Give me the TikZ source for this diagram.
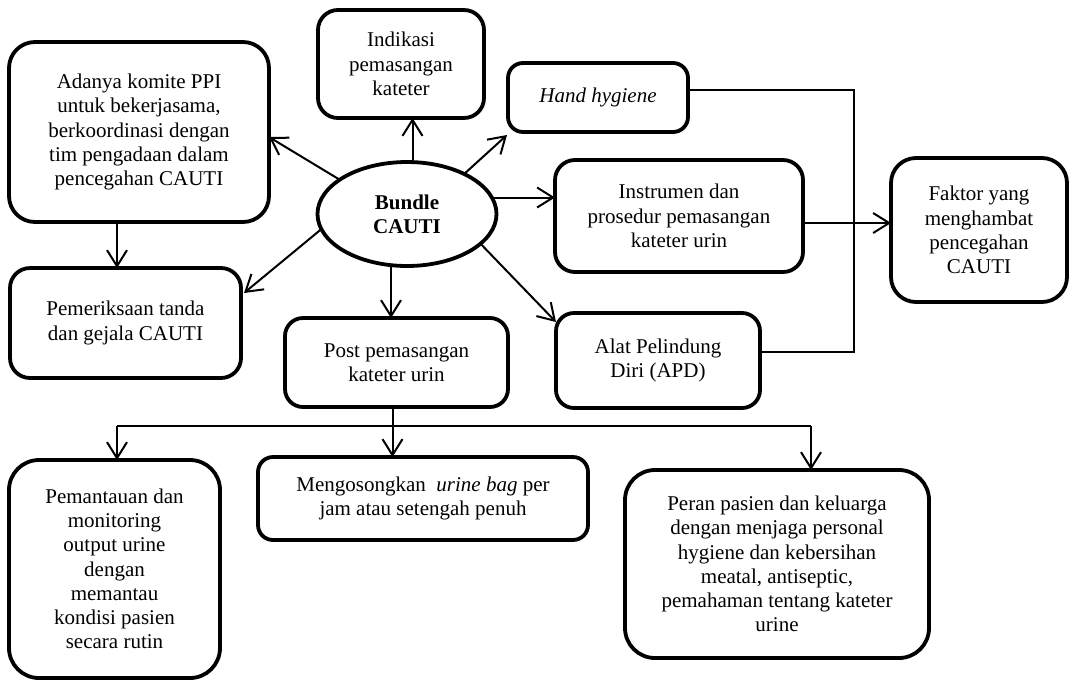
\documentclass[tikz,border=0pt]{standalone}
\usepackage{fontspec}
\setmainfont{Liberation Serif}
\usetikzlibrary{arrows.meta,shapes.geometric}

\begin{document}
\begin{tikzpicture}[x=1pt,y=-1pt,
  every node/.style={font=\fontsize{21pt}{24.2pt}\selectfont, align=center,
    inner sep=0pt, outer sep=0pt},
  box/.style={draw, line width=3.8pt, rounded corners=#1, fill=white},
  box/.default=18pt,
  hub/.style={draw, ellipse, line width=3.8pt, fill=white,
    font=\fontsize{21pt}{24.2pt}\selectfont\bfseries},
  arr/.style={line width=2pt, -{Straight Barb[length=16pt,width=20pt]}},
  link/.style={line width=1.5pt}]

\useasboundingbox (0,0) rectangle (1075,681);

% central bundle
\node[hub, minimum width=179pt, minimum height=104pt] (bundle) at (407,214) {Bundle\\CAUTI};

% first ring of boxes
\node[box=26pt, minimum width=260pt, minimum height=180pt] (komite) at (139,132)
  {Adanya komite PPI\\untuk bekerjasama,\\berkoordinasi dengan\\tim pengadaan dalam\\pencegahan CAUTI};
\node[box=20pt, minimum width=166pt, minimum height=108pt] (indikasi) at (401,64)
  {Indikasi\\pemasangan\\kateter};
\node[box=15pt, minimum width=180pt, minimum height=69pt] (hand) at (598,97.5)
  {\itshape Hand hygiene};
\node[box=20pt, minimum width=248pt, minimum height=112pt] (instrumen) at (679,216)
  {Instrumen dan\\prosedur pemasangan\\kateter urin};
\node[box=25pt, minimum width=176pt, minimum height=144pt] (faktor) at (979,230)
  {Faktor yang\\menghambat\\pencegahan\\CAUTI};
\node[box=20pt, minimum width=231pt, minimum height=110pt] (periksa) at (125.5,323)
  {Pemeriksaan tanda\\dan gejala CAUTI};
\node[box=18pt, minimum width=223pt, minimum height=89pt] (post) at (396.5,362.5)
  {Post pemasangan\\kateter urin};
\node[box=18pt, minimum width=204pt, minimum height=95pt] (alat) at (658,360.5)
  {Alat Pelindung\\Diri (APD)};

% follow-up boxes
\node[box=30pt, minimum width=211pt, minimum height=218pt] (pantau) at (114.5,569)
  {Pemantauan dan\\monitoring\\output urine\\dengan\\memantau\\kondisi pasien\\secara rutin};
\node[box=15pt, minimum width=330pt, minimum height=83pt] (kosong) at (423,498.5)
  {Mengosongkan\ \ \textit{urine bag} per\\jam atau setengah penuh};
\node[box=30pt, minimum width=304pt, minimum height=188pt] (peran) at (777,564)
  {Peran pasien dan keluarga\\dengan menjaga personal\\hygiene dan kebersihan\\meatal, antiseptic,\\pemahaman tentang kateter\\urine};

% arrows out of the bundle
\draw[arr] (bundle.153) -- ([yshift=-5pt]komite.east);
\coordinate (bTop) at ([xshift=5.5pt]bundle.north);
\draw[arr] (bTop) -- (bTop |- indikasi.south);
\draw[arr] (bundle.35) -- ([xshift=-1pt,yshift=-3pt]hand.south west);
\draw[arr] (bundle.11) -- (bundle.11 -| instrumen.west);
\draw[arr] (bundle.190) -- ([xshift=3pt,yshift=30pt]periksa.east);
\coordinate (bBot) at ([xshift=-16pt]bundle.south);
\draw[arr] (bBot) -- (bBot |- post.north);
\draw[arr] (bundle.338) -- ([yshift=-9pt]alat.north west);

% committee to examination
\coordinate (kOut) at ([xshift=-22pt]komite.south);
\draw[arr] (kOut) -- (kOut |- periksa.north);

% barriers rail on the right
\coordinate (rail) at (854,223);
\coordinate (hIn) at ([yshift=7.5pt]hand.east);
\coordinate (aIn) at ([yshift=8.5pt]alat.east);
\draw[link] (hIn) -| (rail |- aIn) -- (aIn);
\coordinate (iOut) at ([yshift=-7pt]instrumen.east);
\draw[arr] (iOut) -- (iOut -| faktor.west);

% post-insertion branches
\coordinate (pOut) at ([xshift=-4pt]post.south);
\coordinate (busL) at (117,426);
\coordinate (busR) at (811,426);
\draw[link] (busL) -- (busR);
\draw[arr] (pOut) -- (pOut |- kosong.north);
\draw[arr] (busL) -- (busL |- pantau.north);
\draw[arr] (busR) -- (busR |- peran.north);

\end{tikzpicture}
\end{document}
